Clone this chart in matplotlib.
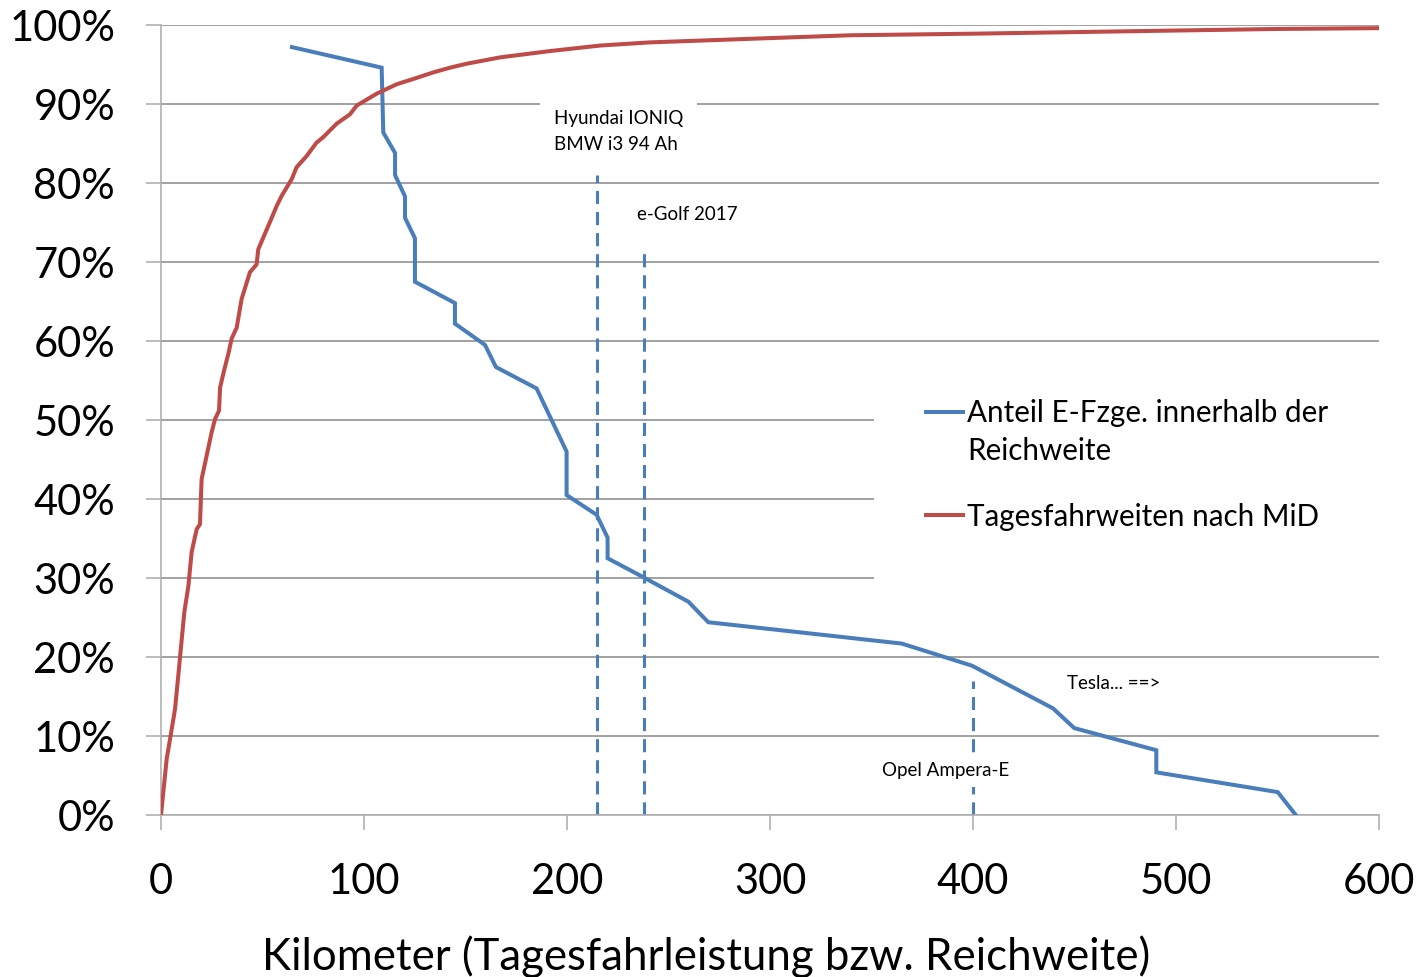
import numpy as np
import matplotlib
matplotlib.use("Agg")
import matplotlib.pyplot as plt
from matplotlib.ticker import PercentFormatter, MultipleLocator
from matplotlib.legend_handler import HandlerLine2D
from matplotlib.lines import Line2D

plt.rcParams['font.family'] = ['Lato', 'DejaVu Sans']

# ---------------- data ----------------
# Share of e-vehicles whose range covers the distance (blue)
ev_km = [64.5, 108.7, 109.5, 115.3, 115.3, 120.2, 120.2, 125.1, 125.1, 144.8, 144.8,
         159.6, 165.0, 185.0, 199.8, 199.8, 214.6, 220.0, 220.0, 237.6, 259.8, 269.6,
         364.9, 399.5, 439.4, 449.9, 490.3, 490.3, 550.1, 559.0]
ev_share = [0.972, 0.946, 0.864, 0.838, 0.810, 0.783, 0.756, 0.730, 0.675, 0.648, 0.622,
            0.595, 0.567, 0.540, 0.460, 0.405, 0.380, 0.351, 0.325, 0.301, 0.270, 0.244,
            0.217, 0.189, 0.135, 0.110, 0.082, 0.054, 0.029, 0.000]

# Daily driving distances (MiD) cumulative share (red)
mid_km = [0, 2.8, 5.3, 6.9, 8.5, 9.9, 11.5, 13.5, 15.1, 17.6, 19.2, 20.0, 22.5, 24.9,
          26.6, 28.6, 29.1, 31.0, 33.2, 34.8, 37.3, 39.7, 43.8, 47.1, 47.9, 52.9, 57.0,
          59.5, 64.4, 66.8, 71.7, 76.6, 79.9, 86.5, 93.1, 96.4, 106.2, 116.1, 125.9,
          134.1, 142.4, 150.6, 167.0, 191.6, 216.3, 240.9, 273.7, 306.5, 339.4, 400,
          450, 500, 550, 600]
mid_share = [0, 0.071, 0.109, 0.134, 0.176, 0.214, 0.257, 0.290, 0.333, 0.362, 0.368,
             0.425, 0.455, 0.484, 0.501, 0.512, 0.541, 0.562, 0.584, 0.603, 0.617, 0.653,
             0.687, 0.697, 0.716, 0.746, 0.771, 0.784, 0.805, 0.820, 0.834, 0.851, 0.858,
             0.875, 0.887, 0.898, 0.913, 0.925, 0.933, 0.940, 0.946, 0.951, 0.959, 0.967,
             0.974, 0.978, 0.981, 0.984, 0.987, 0.989, 0.991, 0.993, 0.995, 0.996]

# Model ranges (dashed markers)
model_km = [214.7, 237.8, 400.0]
model_top = [0.81, 0.72, 0.17]

series_labels = ["Anteil E-Fzge. innerhalb der\nReichweite", "Tagesfahrweiten nach MiD"]
x_ticks = [0, 100, 200, 300, 400, 500, 600]
x_label = "Kilometer (Tagesfahrleistung bzw. Reichweite)"

BLUE = '#4A7EBB'
RED = '#BE4B48'
GRID = '#878787'
AXC = '#B0B0B0'

fig = plt.figure(figsize=(14.19, 9.78), dpi=100)
ax = fig.add_axes([161/1419, 1-816/978, (1379-161)/1419, (816-26)/978])

ax.set_xlim(0, 600)
ax.set_ylim(0, 1)
ax.set_xticks(x_ticks)
ax.yaxis.set_major_locator(MultipleLocator(0.1))
ax.yaxis.set_major_formatter(PercentFormatter(1.0, decimals=0))

ax.yaxis.grid(True, color=GRID, lw=1.1)
ax.set_axisbelow(True)
for s in ['top', 'right']:
    ax.spines[s].set_visible(False)
for s in ['left', 'bottom']:
    ax.spines[s].set_color(AXC)
    ax.spines[s].set_linewidth(1.2)
ax.tick_params(axis='both', direction='out', length=11, width=1.2, color=AXC,
               labelsize=30, labelcolor='black')
ax.tick_params(axis='y', pad=22)
ax.tick_params(axis='x', pad=23)

# dashed model markers
ax.vlines(model_km, 0, model_top, colors=BLUE, linewidth=2.2,
          linestyles=[(0, (4.3, 2.6))], zorder=2)

l1, = ax.plot(ev_km, ev_share, color=BLUE, lw=2.9, solid_joinstyle='miter', zorder=3,
              label=series_labels[0])
l2, = ax.plot(mid_km, mid_share, color=RED, lw=2.9, zorder=4, label=series_labels[1])

# annotations
box = dict(fc='white', ec='none', pad=6)
ax.text(193.6, 0.866, "Hyundai IONIQ\nBMW i3 94 Ah", fontsize=13.5, ha='left', va='center',
        linespacing=1.65, bbox=dict(fc='white', ec='none', pad=10), zorder=5)
ax.text(234.5, 0.762, "e-Golf 2017", fontsize=13.5, ha='left', va='center', bbox=box, zorder=5)
ax.text(446.3, 0.168, "Tesla... ==>", fontsize=13.5, ha='left', va='center', bbox=box, zorder=5)
ax.text(355.2, 0.057, "Opel Ampera-E", fontsize=13.5, ha='left', va='center', bbox=box, zorder=5)


class HandlerFirstLine(HandlerLine2D):
    def __init__(self, dy_frac=0.0, **kw):
        super().__init__(**kw)
        self.dy_frac = dy_frac

    def create_artists(self, legend, orig_handle, xdescent, ydescent, width, height,
                       fontsize, trans):
        arts = super().create_artists(legend, orig_handle, xdescent, ydescent, width,
                                      height, fontsize, trans)
        for a in arts:
            if isinstance(a, Line2D):
                a.set_ydata(np.asarray(a.get_ydata()) + self.dy_frac * fontsize)
        return arts


leg = ax.legend([l1, l2], series_labels, loc='upper left',
                bbox_to_anchor=((874-161)/1218, (816-347)/790),
                frameon=True, facecolor='white', edgecolor='none', framealpha=1,
                fancybox=False, fontsize=21.3, handlelength=1.25, handletextpad=0.15,
                borderpad=1.75, labelspacing=1.28, borderaxespad=0,
                handler_map={l1: HandlerFirstLine(dy_frac=0.68)})
leg.get_texts()[0].set_linespacing(1.45)
leg.set_zorder(5)

ax.set_xlabel(x_label, fontsize=31.5)
ax.xaxis.set_label_coords((706-161)/1218, (816-935)/790)

fig.savefig('out.png', dpi=100)
